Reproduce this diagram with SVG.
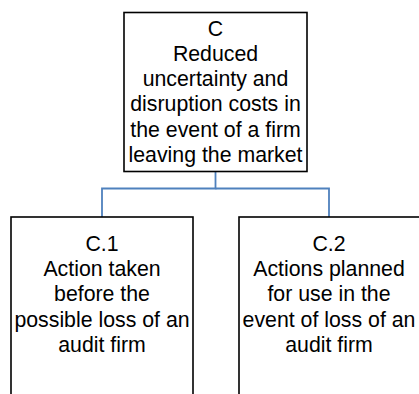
<svg xmlns="http://www.w3.org/2000/svg" width="419" height="394" viewBox="0 0 419 394">
<style>
.box{fill:#fff;stroke:#000;stroke-width:1.6}
.t{font-family:"Liberation Sans",Arial,sans-serif;font-size:21.3px;fill:#000;text-anchor:middle}
.c{fill:none;stroke:#4F81BD;stroke-width:1.8}
</style>
<rect width="419" height="394" fill="#fff"/>
<g id="connectors">
<path class="c" d="M215.5 172 V188.5 H102 V217"/>
<path class="c" d="M215.5 188.5 H329 V217"/>
</g>
<g id="C">
<rect class="box" x="124" y="12.5" width="183" height="159"/>
<text class="t"><tspan x="215.5" y="35.5">C</tspan><tspan x="215.5" y="60.8">Reduced</tspan><tspan x="215.5" y="86.1">uncertainty and</tspan><tspan x="215.5" y="111.4">disruption costs in</tspan><tspan x="215.5" y="136.7">the event of a firm</tspan><tspan x="215.5" y="162">leaving the market</tspan></text>
</g>
<g id="C1">
<rect class="box" x="11" y="217" width="182" height="200"/>
<text class="t"><tspan x="102" y="251">C.1</tspan><tspan x="102" y="276">Action taken</tspan><tspan x="102" y="301">before the</tspan><tspan x="102" y="326.5">possible loss of an</tspan><tspan x="102" y="351.5">audit firm</tspan></text>
</g>
<g id="C2">
<rect class="box" x="239" y="217" width="182" height="200"/>
<text class="t"><tspan x="329" y="251">C.2</tspan><tspan x="329" y="276">Actions planned</tspan><tspan x="329" y="301">for use in the</tspan><tspan x="329" y="326.5">event of loss of an</tspan><tspan x="329" y="351.5">audit firm</tspan></text>
</g>
</svg>
